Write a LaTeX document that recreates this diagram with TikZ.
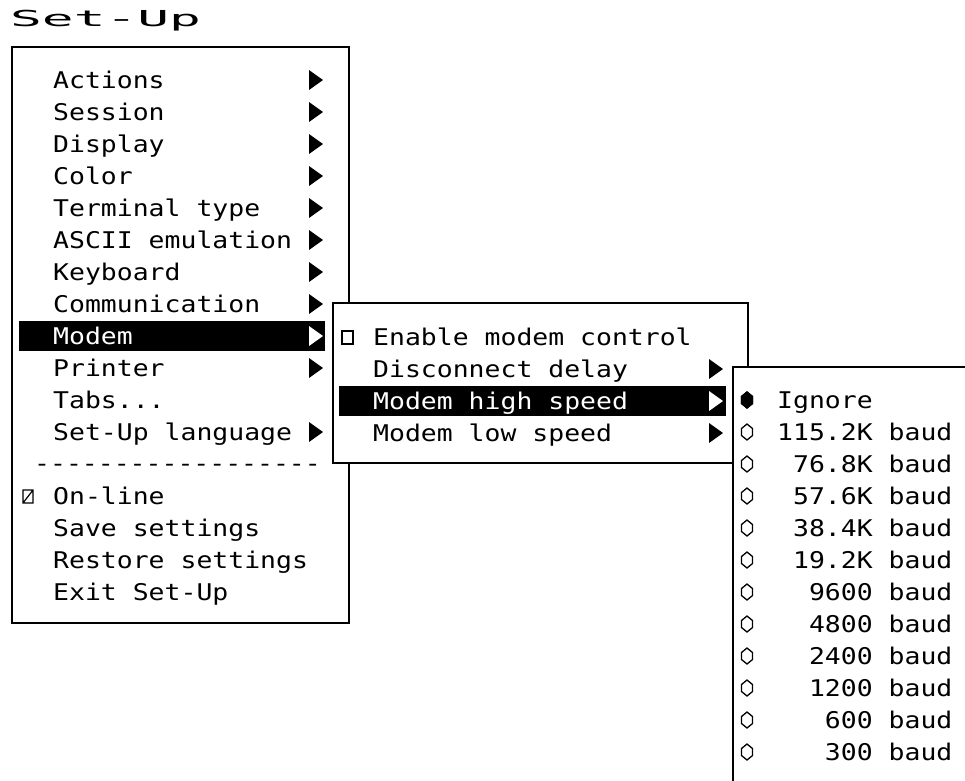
\documentclass[tikz,border=0pt]{standalone}
\usepackage{fontspec}
\setmonofont[FakeStretch=1.15]{DejaVu Sans Mono}
\newfontfamily\titlefont[FakeStretch=2.4]{DejaVu Sans Mono}
\tikzset{
	item/.style={anchor=base west, inner sep=0pt, font=\ttfamily\fontsize{23}{23}\selectfont},
	menubox/.style={draw, fill=white, line width=2pt},
	submark/.pic={\fill[pic actions] (0,-10) -- (14,0) -- (0,10) -- cycle;},
	radio/.pic={\draw[line width=1.3pt, pic actions] (0,-8) -- (5.5,-3.5) -- (5.5,3.5) -- (0,8) -- (-5.5,3.5) -- (-5.5,-3.5) -- cycle;}
}
\begin{document}
\begin{tikzpicture}[x=1pt, y=-1pt]
	\useasboundingbox (0,0) rectangle (965,780);
	\node [anchor=base west, inner sep=0pt, font=\titlefont\fontsize{22}{22}\selectfont] (title) at (10,26) {Set-Up};
	% main menu
	\draw [menubox] (12,47) rectangle (349,623);
	\fill (19,321) rectangle (325,351);
	\foreach \i/\t in {0/Actions, 1/Session, 2/Display, 3/Color, 4/Terminal type,
		5/ASCII emulation, 6/Keyboard, 7/Communication, 9/Printer, 10/{Tabs...},
		11/Set-Up language, 13/On-line, 14/Save settings, 15/Restore settings, 16/Exit Set-Up}
		\node [item] (main-\i) at (53,{88+32*\i}) {\t};
	\node [item, text=white] (main-8) at (53,344) {Modem};
	\node [item] (sep) at (34,471) {------------------};
	\foreach \i in {0,...,7,9,11}
		\pic at (309,{80+32*\i}) {submark};
	\pic [white] at (309,336) {submark};
	\draw [line width=1.2pt] (23,490) rectangle (33,503) (23,503) -- (33,490);
	% modem submenu
	\draw [menubox] (333,303) rectangle (748,463);
	\fill (339,386) rectangle (726,416);
	\node [item] (sub-0) at (373,345) {Enable modem control};
	\node [item] (sub-1) at (373,377) {Disconnect delay};
	\node [item, text=white] (sub-2) at (373,409) {Modem high speed};
	\node [item] (sub-3) at (373,441) {Modem low speed};
	\draw [line width=1.2pt] (342,331) rectangle (353,344);
	\pic at (709,369) {submark};
	\pic [white] at (709,401) {submark};
	\pic at (709,433) {submark};
	% speed submenu
	\fill [white] (733,367) rectangle (966,781);
	\draw [line width=2pt] (966,367) -- (733,367) -- (733,781);
	\foreach \t [count=\i from 0] in {Ignore, 115.2K baud, {\hphantom{1}76.8K baud},
		{\hphantom{1}57.6K baud}, {\hphantom{1}38.4K baud}, {\hphantom{1}19.2K baud},
		{\hphantom{11}9600 baud}, {\hphantom{11}4800 baud}, {\hphantom{11}2400 baud},
		{\hphantom{11}1200 baud}, {\hphantom{111}600 baud}, {\hphantom{111}300 baud}}
	{
		\node [item] (baud-\i) at (777,{408+32*\i}) {\t};
		\pic at (747,{400+32*\i}) {radio};
	}
	\pic [fill=black] at (747,400) {radio};
\end{tikzpicture}
\end{document}
